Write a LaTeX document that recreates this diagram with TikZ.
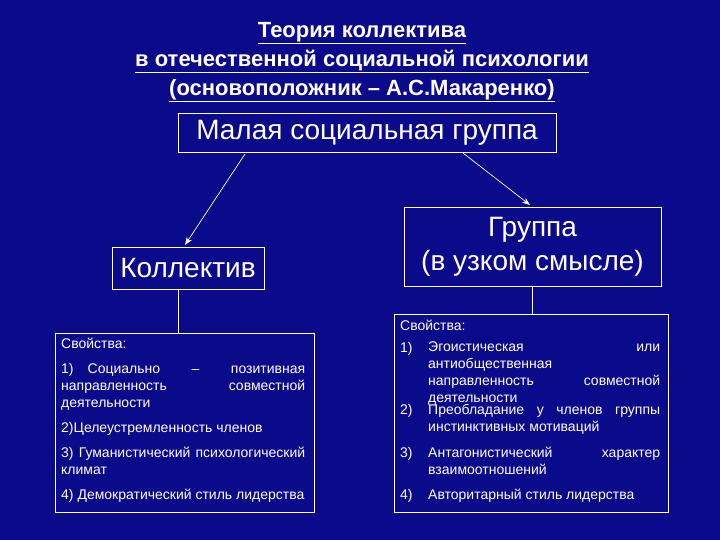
\documentclass[tikz,border=0pt]{standalone}
\usepackage{fontspec}
\setmainfont{Liberation Sans}
\usetikzlibrary{arrows.meta}
\definecolor{bg}{RGB}{10,10,138}
\begin{document}
\begin{tikzpicture}[x=1pt,y=-1pt,
  box/.style={draw=white,line width=0.8pt,inner sep=0pt},
  txt/.style={text=white,inner sep=0pt,anchor=north west,align=justify,font=\fontsize{14}{17}\selectfont},
  num/.style={text=white,inner sep=0pt,anchor=north west,font=\fontsize{14}{17}\selectfont},
  con/.style={draw=white,line width=0.7pt},
  arr/.style={con,-{Stealth[length=8pt,width=6pt]}}]
\fill[bg] (0,0) rectangle (720,540);
\useasboundingbox (0,0) rectangle (720,540);
\node[text=white,font=\bfseries\fontsize{22}{29}\selectfont,align=center] (title) at (362,62)
 {\underline{Теория коллектива}\\\underline{в отечественной социальной психологии}\\\underline{(основоположник – А.С.Макаренко)}};
\node[box,minimum width=378pt,minimum height=39pt,text=white,font=\fontsize{28}{32}\selectfont] (small) at (367,132.5) {Малая социальная группа};
\node[box,minimum width=152pt,minimum height=42pt,text=white,font=\fontsize{28}{32}\selectfont] (kol) at (188,268) {Коллектив};
\node[box,minimum width=257pt,minimum height=79pt,text=white,font=\fontsize{28}{34}\selectfont,align=center] (grp) at (532.5,246.5) {Группа\\(в узком смысле)};
\node[box,minimum width=259pt,minimum height=179pt] (lp) at (184.5,422.5) {};
\node[box,minimum width=274pt,minimum height=198pt] (rp) at (531,413) {};
\coordinate (a1) at (245,154);
\draw[arr] (a1) -- (185,245);
\coordinate (a2) at (463,153);
\draw[arr] (a2) -- (530,205);
\draw[con] (kol.south -| 178,0) -- (lp.north -| 178,0);
\draw[con] (grp.south -| 532,0) -- (rp.north -| 532,0);
% left texts
\node[num] (l0) at (61,338) {Свойства:};
\node[txt,text width=244pt] (l1) at (61,363) {1)\quad Социально – позитивная направленность совместной деятельности};
\node[num] (l2) at (61,422) {2)Целеустремленность членов};
\node[txt,text width=244pt] (l3) at (61,447) {3) Гуманистический психологический климат};
\node[num] (l4) at (61,489) {4) Демократический стиль лидерства};
% right texts
\node[num] (r0) at (400,320) {Свойства:};
\node[num] (n1) at (400,342) {1)};
\node[txt,text width=232pt] (r1) at (428,342) {Эгоистическая или антиобщественная направленность совместной деятельности};
\node[num] (n2) at (400,404) {2)};
\node[txt,text width=232pt] (r2) at (428,404) {Преобладание у членов группы инстинктивных мотиваций};
\node[num] (n3) at (400,447) {3)};
\node[txt,text width=232pt] (r3) at (428,447) {Антагонистический характер взаимоотношений};
\node[num] (n4) at (400,489) {4)};
\node[txt,text width=232pt] (r4) at (428,489) {Авторитарный стиль лидерства};
\end{tikzpicture}
\end{document}
